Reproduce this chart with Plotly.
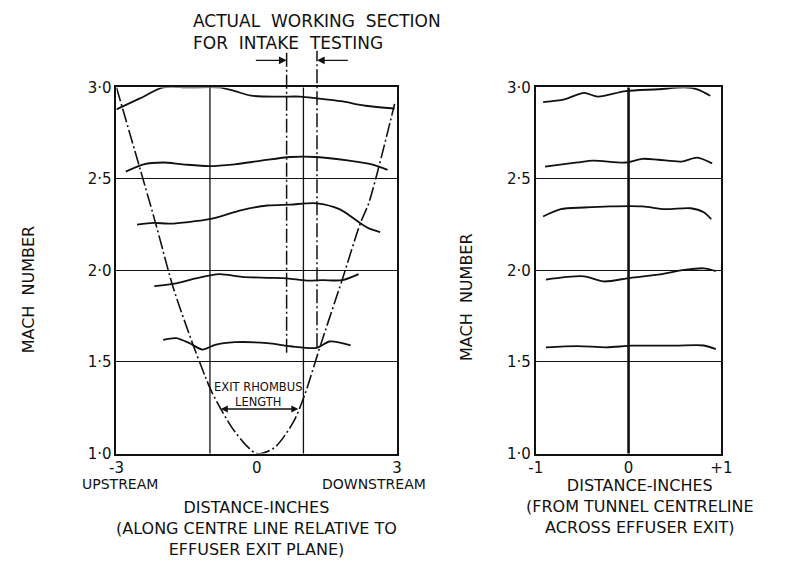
import plotly.graph_objects as go

# ---------------- data ----------------
# Centre-line survey: Mach number vs distance (in) relative to effuser exit plane
cl_x_30 = [-3.0, -2.5, -2.0, -1.5, -0.8, -0.47, -0.12, 0.5, 0.93, 1.3, 1.8, 2.33, 2.95]
cl_m_30 = [2.88, 2.94, 3.0, 3.0, 3.0, 2.98, 2.955, 2.95, 2.95, 2.94, 2.925, 2.90, 2.885]

cl_x_26 = [-2.8, -2.42, -2.0, -1.58, -1.02, -0.47, 0.1, 0.72, 1.28, 1.98, 2.46, 2.8]
cl_m_26 = [2.54, 2.58, 2.59, 2.58, 2.57, 2.58, 2.60, 2.62, 2.62, 2.60, 2.58, 2.55]

cl_x_23 = [-2.56, -2.2, -1.86, -1.02, -0.32, 0.23, 0.72, 1.28, 1.77, 2.18, 2.4, 2.64]
cl_m_23 = [2.25, 2.26, 2.256, 2.28, 2.33, 2.355, 2.36, 2.367, 2.335, 2.265, 2.23, 2.21]

cl_x_20 = [-2.19, -1.72, -1.3, -0.8, -0.32, 0.23, 0.65, 1.07, 1.41, 1.83, 2.18]
cl_m_20 = [1.915, 1.93, 1.957, 1.98, 1.965, 1.96, 1.957, 1.945, 1.947, 1.947, 1.98]

cl_x_16 = [-2.0, -1.72, -1.44, -1.16, -0.89, -0.47, 0.23, 0.72, 1.28, 1.56, 2.01]
cl_m_16 = [1.621, 1.63, 1.603, 1.568, 1.594, 1.608, 1.603, 1.586, 1.577, 1.612, 1.591]

# Exit rhombus boundary (chain line)
rh_x = [-3.0, -2.17, -1.79, -1.37, -1.10, -0.95, -0.47, 0.0, 0.37, 0.78, 1.04, 1.35, 1.83, 2.22, 2.40, 2.95]
rh_m = [3.0, 2.265, 1.91, 1.60, 1.42, 1.33, 1.12, 1.0, 1.03, 1.17, 1.33, 1.58, 1.95, 2.26, 2.37, 2.91]

# Actual working section for intake testing: station (in) and lower Mach limit
ws_x = [0.64, 1.29]
ws_m = [1.55, 1.58]

# Exit rhombus length marker
rl_x = [-0.8, 0.89]
rl_m = 1.243

# Transverse survey: Mach number vs distance (in) from tunnel centreline
tr_x_30 = [-0.92, -0.69, -0.48, -0.33, -0.03, 0.32, 0.6, 0.74, 0.88]
tr_m_30 = [2.92, 2.935, 2.97, 2.95, 2.98, 2.99, 3.0, 2.99, 2.955]

tr_x_26 = [-0.9, -0.55, -0.38, -0.03, 0.15, 0.32, 0.57, 0.74, 0.9]
tr_m_26 = [2.567, 2.59, 2.60, 2.59, 2.61, 2.605, 2.595, 2.617, 2.585]

tr_x_23 = [-0.92, -0.73, -0.48, -0.2, 0.15, 0.39, 0.67, 0.81, 0.89]
tr_m_23 = [2.295, 2.335, 2.344, 2.35, 2.35, 2.335, 2.34, 2.318, 2.28]

tr_x_20 = [-0.89, -0.48, -0.27, 0.02, 0.32, 0.6, 0.81, 0.94]
tr_m_20 = [1.95, 1.968, 1.94, 1.96, 1.977, 2.003, 2.012, 1.997]

tr_x_16 = [-0.89, -0.55, -0.24, 0.04, 0.5, 0.81, 0.94]
tr_m_16 = [1.58, 1.587, 1.58, 1.589, 1.589, 1.59, 1.57]

mach_ticks = [1.0, 1.5, 2.0, 2.5, 3.0]
mach_labels = ["1·0", "1·5", "2·0", "2·5", "3·0"]
left_ticks = [-3, 0, 3]
left_labels = ["-3", "0", "3"]
right_ticks = [-1, 0, 1]
right_labels = ["-1", "0", "+1"]
left_grid_x = [-1, 1]

# ---------------- figure ----------------
W, H = 792, 570
FONT = "DejaVu Sans"
INK = "#111111"
CHAIN = "14px,3px,2px,3px"

fig = go.Figure()


def curve(xs, ys, xa, ya, dash="solid", width=1.8):
    fig.add_trace(go.Scatter(
        x=xs, y=ys, xaxis=xa, yaxis=ya, mode="lines",
        line=dict(color=INK, width=width, dash=dash, shape="spline", smoothing=0.8),
        hoverinfo="skip", showlegend=False,
    ))


for xs, ys in [(cl_x_30, cl_m_30), (cl_x_26, cl_m_26), (cl_x_23, cl_m_23),
               (cl_x_20, cl_m_20), (cl_x_16, cl_m_16)]:
    curve(xs, ys, "x", "y")

curve(rh_x, rh_m, "x", "y", dash=CHAIN, width=1.6)

for xs, ys in [(tr_x_30, tr_m_30), (tr_x_26, tr_m_26), (tr_x_23, tr_m_23),
               (tr_x_20, tr_m_20), (tr_x_16, tr_m_16)]:
    curve(xs, ys, "x2", "y2")

M_LO, M_HI = mach_ticks[0], mach_ticks[-1]


def dom(m):
    """Mach value -> fraction of the y-axis domain."""
    return (m - M_LO) / (M_HI - M_LO)


# vertical grid lines
for gx in left_grid_x:
    fig.add_shape(type="line", xref="x", yref="y domain", x0=gx, x1=gx, y0=0, y1=1,
                  line=dict(color=INK, width=1.3), layer="below")
fig.add_shape(type="line", xref="x2", yref="y2 domain", x0=0, x1=0, y0=0, y1=1,
              line=dict(color=INK, width=2.6), layer="above")

# working-section limits, carried up above the frame
TOP = 1.10
for wx, wm in zip(ws_x, ws_m):
    fig.add_shape(type="line", xref="x", yref="y domain", x0=wx, x1=wx,
                  y0=dom(wm), y1=TOP, line=dict(color=INK, width=1.5, dash=CHAIN))

# arrows pointing at the working-section limits
ARROW_Y = 1.074
fig.add_annotation(x=ws_x[0], y=ARROW_Y, xref="x", yref="y domain",
                   ax=ws_x[0] - 0.69, ay=ARROW_Y, axref="x", ayref="y domain",
                   text="", showarrow=True, arrowhead=2, arrowsize=1.1,
                   arrowwidth=1.4, arrowcolor=INK, standoff=0)
fig.add_annotation(x=ws_x[1], y=ARROW_Y, xref="x", yref="y domain",
                   ax=ws_x[1] + 0.69, ay=ARROW_Y, axref="x", ayref="y domain",
                   text="", showarrow=True, arrowhead=2, arrowsize=1.1,
                   arrowwidth=1.4, arrowcolor=INK, standoff=0)

# exit rhombus length, double-headed
fig.add_annotation(x=rl_x[1], y=rl_m, xref="x", yref="y",
                   ax=rl_x[0], ay=rl_m, axref="x", ayref="y",
                   text="", showarrow=True, arrowhead=2, startarrowhead=2,
                   arrowside="end+start", arrowsize=1.0, arrowwidth=1.4,
                   arrowcolor=INK, standoff=0, startstandoff=0)
fig.add_annotation(x=0.03, y=1.322, xref="x", yref="y", text="EXIT RHOMBUS<br>LENGTH",
                   showarrow=False, align="center", borderpad=0,
                   font=dict(family=FONT, size=11.5, color=INK))


def label(text, px, py, size=16, angle=0, xanchor="center", align="center"):
    fig.add_annotation(x=px / W, y=1 - py / H, xref="paper", yref="paper",
                       text=text, showarrow=False, textangle=angle,
                       xanchor=xanchor, yanchor="middle", align=align, borderpad=0,
                       font=dict(family=FONT, size=size, color=INK))


NB = "\u00a0"
label(f"ACTUAL{NB} WORKING{NB} SECTION<br>FOR{NB} INTAKE{NB} TESTING",
      189, 24, size=17, xanchor="left", align="left")

label(f"MACH{NB} NUMBER", 22, 290, size=16, angle=-90)
label(f"MACH{NB} NUMBER", 470, 297, size=16, angle=-90)

label("UPSTREAM", 116, 491, size=14)
label("DOWNSTREAM", 376, 491, size=14)
label("DISTANCE-INCHES<br>(ALONG CENTRE LINE RELATIVE TO<br>EFFUSER EXIT PLANE)",
      255, 536, size=16)
label("DISTANCE-INCHES<br>(FROM TUNNEL CENTRELINE<br>ACROSS EFFUSER EXIT)",
      648, 514, size=16)

# ---------------- axes ----------------
y_dom = [1 - 459 / H, 1 - 81 / H]
frame = dict(showline=True, mirror=True, linecolor=INK, linewidth=1.8,
             zeroline=False, ticks="", fixedrange=True)
tickfont = dict(family=FONT, size=15, color=INK)

fig.update_layout(
    width=W, height=H,
    margin=dict(l=0, r=0, t=0, b=0),
    paper_bgcolor="white", plot_bgcolor="white",
    showlegend=False,
    xaxis=dict(domain=[112 / W, 399 / W], range=[-3, 3], anchor="y",
               tickvals=left_ticks, ticktext=left_labels, showgrid=False,
               tickfont=tickfont, **frame),
    yaxis=dict(domain=y_dom, range=[M_LO, M_HI], anchor="x",
               tickvals=mach_ticks, ticktext=mach_labels,
               showgrid=True, gridcolor=INK, gridwidth=1.3,
               tickfont=tickfont, **frame),
    xaxis2=dict(domain=[541 / W, 731 / W], range=[-1, 1], anchor="y2",
                tickvals=right_ticks, ticktext=right_labels, showgrid=False,
                tickfont=tickfont, **frame),
    yaxis2=dict(domain=y_dom, range=[M_LO, M_HI], anchor="x2",
                tickvals=mach_ticks, ticktext=mach_labels,
                showgrid=True, gridcolor=INK, gridwidth=1.3,
                tickfont=tickfont, **frame),
)

# page body without the default margin so the figure sits flush in the window
fig.write_html("out.html", post_script="document.body.style.margin='0';")
